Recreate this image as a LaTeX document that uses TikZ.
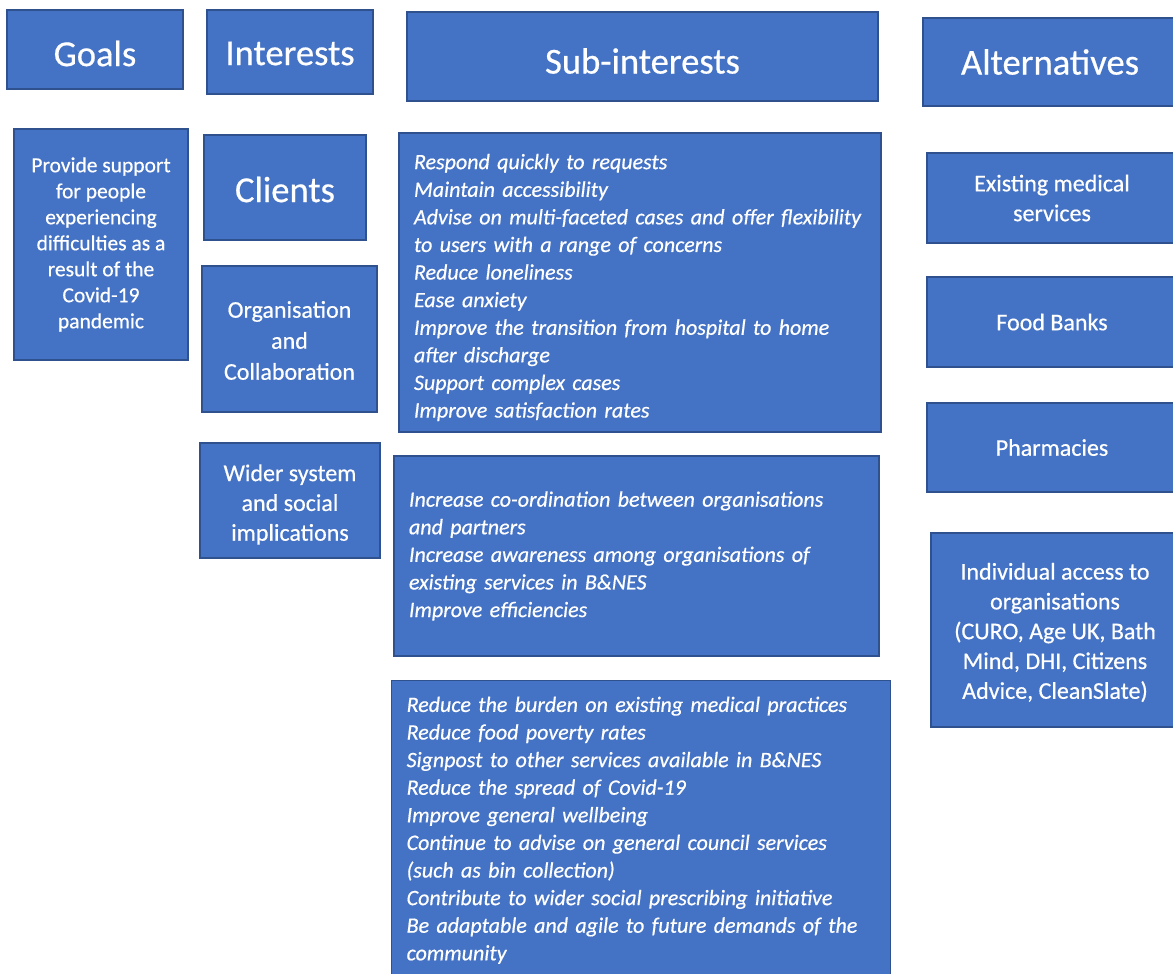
\documentclass[tikz,border=0pt]{standalone}
\usepackage{fontspec}
\setmainfont[FakeBold=0.5]{Carlito}
\definecolor{boxblue}{HTML}{4472C4}
\definecolor{boxline}{HTML}{2F528F}
\newcommand{\dropby}[2]{\raisebox{-#1pt}[\height][\depth]{#2}}
\newcommand{\padtop}[2]{\raisebox{0pt}[\dimexpr\height+#1pt\relax][\depth]{#2}}
\tikzset{
  box/.style={draw=boxline, fill=boxblue, text=white, line width=1.3pt,
    inner sep=6pt, align=center},
  head/.style={box, font=\fontsize{36.6}{44}\selectfont},
  item/.style={box, font=\fontsize{24}{29.8}\selectfont},
  goaltext/.style={box, font=\fontsize{21.5}{26}\selectfont},
  list/.style={box, align=left, inner xsep=15pt,
    font=\fontsize{22}{27.6}\selectfont\itshape}
}
\begin{document}
\begin{tikzpicture}[x=1pt, y=-1pt]
  \useasboundingbox (0,0) rectangle (1173,974);
  % column headers
  \node[head, minimum width=176, minimum height=79] (goals) at (95,49.5) {\dropby{4}{Goals}};
  \node[head, minimum width=166, minimum height=84] (interests) at (290,52) {\dropby{1.5}{Interests}};
  \node[head, minimum width=471, minimum height=89] (subint) at (642.5,56.5) {\dropby{4.5}{Sub-interests}};
  \node[head, minimum width=254, minimum height=88] (alts) at (1050,62) {Alternatives};

  % goals
  \node[goaltext, minimum width=174, minimum height=231] (goal1) at (101,244.5)
    {Provide support\\for people\\experiencing\\difficulties as a\\result of the\\Covid-19\\pandemic};

  % interests
  \node[head, minimum width=162, minimum height=105] (clients) at (285,187.5) {\dropby{2}{Clients}};
  \node[item, font=\fontsize{24}{31}\selectfont, minimum width=175, minimum height=146] (org) at (289.5,339)
    {\padtop{3}{Organisation}\\and\\Collaboration};
  \node[item, minimum width=180, minimum height=115] (wider) at (290,500.5)
    {\padtop{8}{Wider system}\\and social\\implications};

  % sub-interests
  \node[list, text width=452, minimum height=299] (sub1) at (640,282.5)
    {\padtop{10}{Respond quickly to requests}\\
     Maintain accessibility\\
     Advise on multi-faceted cases and offer flexibility\\
     to users with a range of concerns\\
     Reduce loneliness\\
     Ease anxiety\\
     Improve the transition from hospital to home\\
     after discharge\\
     Support complex cases\\
     Improve satisfaction rates};
  \node[list, text width=455, minimum height=200] (sub2) at (636.5,556)
    {Increase co-ordination between organisations\\
     and partners\\
     Increase awareness among organisations of\\
     existing services in B\&NES\\
     Improve efficiencies};
  \node[list, text width=469, inner ysep=16pt, anchor=north west] (sub3) at (391,680)
    {Reduce the burden on existing medical practices\\
     Reduce food poverty rates\\
     Signpost to other services available in B\&NES\\
     Reduce the spread of Covid-19\\
     Improve general wellbeing\\
     Continue to advise on general council services\\
     (such as bin collection)\\
     Contribute to wider social prescribing initiative\\
     Be adaptable and agile to future demands of the\\
     community\\[20pt]};

  % alternatives
  \node[item, minimum width=250, minimum height=90] (alt1) at (1052,198) {Existing medical\\services};
  \node[item, minimum width=250, minimum height=90] (alt2) at (1052,322) {Food Banks};
  \node[item, minimum width=250, minimum height=89] (alt3) at (1052,447.5) {Pharmacies};
  \node[item, minimum width=248, minimum height=194] (alt4) at (1055,630)
    {\padtop{5}{Individual access to}\\organisations\\(CURO, Age UK, Bath\\Mind, DHI, Citizens\\Advice, CleanSlate)};
\end{tikzpicture}
\end{document}
